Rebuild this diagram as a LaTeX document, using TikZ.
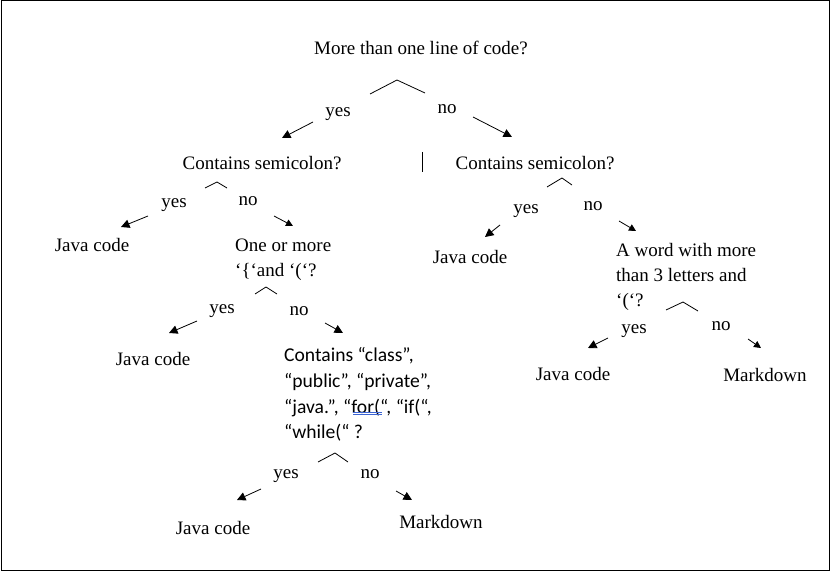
\documentclass[tikz,border=0pt]{standalone}
\usepackage{fontspec}
\setmainfont{Liberation Serif}
\newfontfamily\calfont{Carlito}
\usetikzlibrary{arrows.meta}
\definecolor{wordblue}{RGB}{60,100,210}
\begin{document}
\begin{tikzpicture}[x=1pt,y=-1pt,
  lbl/.style={inner sep=0pt, font=\fontsize{19}{25}\selectfont, text height=13pt, text depth=4pt, yshift=-2.5pt},
  blk/.style={inner sep=0pt, font=\fontsize{19}{25}\selectfont, align=left, anchor=north west},
  calblk/.style={inner sep=0pt, font=\calfont\fontsize{19.6}{25.7}\selectfont, align=left, anchor=north west},
  caretline/.style={line width=0.8pt},
  arr/.style={line width=0.8pt, -{Triangle[length=8.5pt,width=8.5pt]}},
  sarr/.style={line width=0.8pt, -{Triangle[length=7pt,width=7pt]}},
  spell/.style={wordblue, line width=0.7pt}]
\useasboundingbox (0,0) rectangle (833,572);
\draw[line width=1pt] (1,1) rectangle (829,570);

% root
\node[lbl] (q1) at (421,48) {More than one line of code?};
\draw[caretline] (370,94) -- (397,80) -- (425,93);
\node[lbl] (y1) at (338,110) {yes};
\node[lbl] (n1) at (447,107) {no};
\coordinate (a1s) at (313,122); \coordinate (a1e) at (282,138);
\coordinate (b1s) at (473,117); \coordinate (b1e) at (512,137);
\draw[arr] (a1s) -- (a1e);
\draw[arr] (b1s) -- (b1e);
\draw[line width=0.8pt] (422,152) -- (422,172);

% left branch
\node[lbl] (q2) at (262,163) {Contains semicolon?};
\draw[caretline] (205,188) -- (217,182) -- (227,188);
\node[lbl] (y2) at (174,201) {yes};
\node[lbl] (n2) at (248,199) {no};
\coordinate (a2s) at (148,216); \coordinate (a2e) at (121,227);
\coordinate (b2s) at (274,216); \coordinate (b2e) at (293,226);
\draw[arr] (a2s) -- (a2e);
\draw[sarr] (b2s) -- (b2e);
\node[lbl] (j1) at (92,245) {Java code};

\node[blk] (q4) at (235,239) {One or more\\‘\{‘and ‘(‘?};
\draw[caretline] (255,294) -- (266,287) -- (277,294);
\node[lbl] (y4) at (222,306) {yes};
\node[lbl] (n4) at (299,308) {no};
\coordinate (a4s) at (197,321); \coordinate (a4e) at (169,333);
\coordinate (b4s) at (325,323); \coordinate (b4e) at (343,333);
\draw[arr] (a4s) -- (a4e);
\draw[arr] (b4s) -- (b4e);
\node[lbl] (j2) at (153,358) {Java code};

\node[calblk] (q5) at (284,347.5) {Contains “class”,\\“public”, “private”,\\“java.”, “for(“, “if(“,\\“while(“ ?};
\draw[spell] (353,412) -- (382,412);
\draw[spell] (353,414.5) -- (382,414.5);
\draw[caretline] (318,462) -- (335,453) -- (348,462);
\node[lbl] (y5) at (286,471) {yes};
\node[lbl] (n5) at (370,471) {no};
\coordinate (a5s) at (261,489); \coordinate (a5e) at (237,500);
\coordinate (b5s) at (396,491); \coordinate (b5e) at (412,500);
\draw[arr] (a5s) -- (a5e);
\draw[arr] (b5s) -- (b5e);
\node[lbl] (j3) at (213,527) {Java code};
\node[lbl] (m1) at (441,521) {Markdown};

% right branch
\node[lbl] (q3) at (535,163) {Contains semicolon?};
\draw[caretline] (547,187) -- (562,178) -- (572,185);
\node[lbl] (y3) at (526,207) {yes};
\node[lbl] (n3) at (593,204) {no};
\coordinate (a3s) at (500,225); \coordinate (a3e) at (485,237);
\coordinate (b3s) at (619,221); \coordinate (b3e) at (636,231);
\draw[arr] (a3s) -- (a3e);
\draw[sarr] (b3s) -- (b3e);
\node[lbl] (j4) at (470,257) {Java code};

\node[blk] (q6) at (616,243) {A word with more\\than 3 letters and\\‘(‘?};
\draw[caretline] (666,310) -- (683,302) -- (698,311);
\node[lbl] (y6) at (634,327) {yes};
\node[lbl] (n6) at (721,323) {no};
\coordinate (a6s) at (608,338); \coordinate (a6e) at (588,348);
\coordinate (b6s) at (748,339); \coordinate (b6e) at (761,348);
\draw[arr] (a6s) -- (a6e);
\draw[sarr] (b6s) -- (b6e);
\node[lbl] (j5) at (573,373) {Java code};
\node[lbl] (m2) at (765,374) {Markdown};
\end{tikzpicture}
\end{document}
